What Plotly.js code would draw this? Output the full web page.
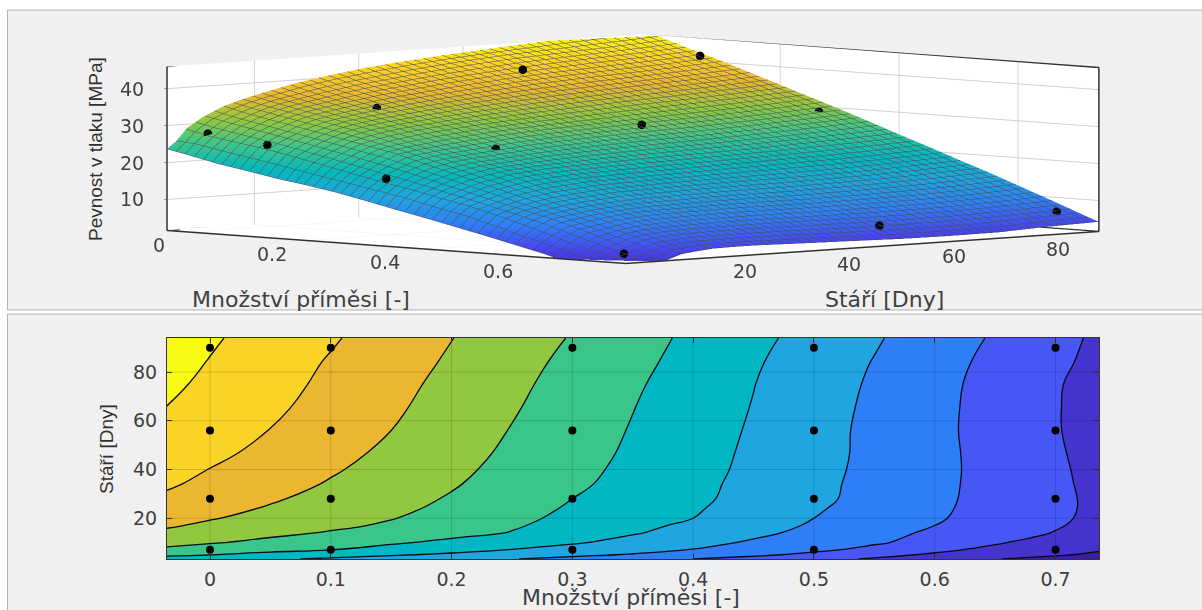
<!DOCTYPE html>
<html><head><meta charset="utf-8">
<script src="https://cdn.plot.ly/plotly-3.0.1.min.js"></script>
<style>html,body{margin:0;padding:0;background:#fff;overflow:hidden;width:1202px;height:610px}
#wrap{position:relative;width:1202px;height:610px;overflow:hidden}
#chart{position:absolute;left:0;top:0;width:1202px;height:610px}
#chart3d{position:absolute;left:-17px;top:-510px;width:1300px;height:1318px}</style>
</head><body><div id="wrap"><div id="chart"></div><div id="chart3d"></div></div>
<script>
const gridX = [-0.036,0,0.05,0.1,0.15,0.2,0.25,0.3,0.35,0.4,0.45,0.5,0.55,0.6,0.65,0.7,0.736];
const gridY = [3.25,5,7,10,14,17,20,24,28,34,40,47,56,65,75,84,94];
const gridZ = [
 [23.7,22.5,20.7,19.3,17.8,16.6,15.2,13.5,11.7,10,8.2,6.4,4.5,2.6,0.2,-1.5,-3],
 [25.6,25.1,23.5,22.1,20.6,19.1,17.6,16.1,14.6,12.7,11,8.8,6.5,4.3,2.3,0.5,-0.8],
 [28.9,27.5,26.2,25,23.3,21.6,19.8,18.1,16.6,14.8,13.1,11,8.6,6,3.8,1.8,0.4],
 [31.6,30.4,28.8,27.2,25.6,23.9,22.2,20.5,18.5,16.4,14.4,12.5,10.6,8.2,5.5,3,1.2],
 [34.2,32.7,31.1,29.6,28,26.4,24.8,22.6,20.4,18.2,16,13.8,11.6,9.2,7.2,4.8,3.1],
 [35.5,34.2,32.6,31,29.3,27.4,25.5,23.4,21.3,19,16.8,14.5,12.2,10,7.8,5.4,3.6],
 [36.6,35.3,33.6,31.9,30.2,28.2,26,24,22,20,17.5,15,12.7,10.5,8.1,5.7,4],
 [37.9,36.4,34.6,32.8,31,29,26.7,24.5,22.4,20.5,18,15.5,13.2,10.8,8.3,5.9,4.1],
 [39.2,37.5,35.5,33.6,31.6,29.6,27.3,25,22.9,20.9,18.5,16,13.5,11,8.4,5.9,4.1],
 [40.6,38.9,36.8,34.6,32.5,30.4,28.1,25.8,23.5,21.2,18.7,16.2,13.6,11.1,8.5,5.8,3.9],
 [41.8,39.9,37.7,35.5,33.3,31,28.7,26.3,23.9,21.5,19,16.4,13.8,11.2,8.5,5.7,3.7],
 [42.9,41.1,38.8,36.4,34.1,31.7,29.2,26.8,24.3,21.8,19.2,16.6,13.9,11.2,8.4,5.5,3.5],
 [44,42.4,39.9,37.5,35,32.4,29.8,27.3,24.7,22.1,19.5,16.7,13.9,11.1,8.3,5.3,3.2],
 [44.9,43.4,40.8,38.3,35.7,33.1,30.4,27.7,25.1,22.4,19.8,16.9,14.1,11.2,8.3,5.3,3.1],
 [45.9,44.1,41.6,39,36.4,33.7,31,28.3,25.6,22.9,20.1,17.2,14.4,11.4,8.4,5.4,3.2],
 [46.7,44.8,42.2,39.6,37,34.4,31.6,28.9,26.2,23.4,20.5,17.7,14.8,11.8,8.8,5.9,3.8],
 [47.5,45.6,43,40.5,37.8,35.1,32.4,29.7,26.9,24,21.2,18.3,15.5,12.5,9.5,6.4,4.2]
];
const ptX = [0,0,0,0,0.1,0.1,0.1,0.1,0.3,0.3,0.3,0.3,0.5,0.5,0.5,0.5,0.7,0.7,0.7,0.7];
const ptY = [7,28,56,90,7,28,56,90,7,28,56,90,7,28,56,90,7,28,56,90];
const ptZ = [27.9,35,40,43,26,34,41.7,42.2,19.2,25.3,29.1,29.4,8.5,13,14,15,3.5,4.7,6.4,7];
const xTicks2d = [0,0.1,0.2,0.3,0.4,0.5,0.6,0.7];
const yTicks = [20,40,60,80];
const xTicks3d = [0,0.2,0.4,0.6];
const zTicks = [10,20,30,40];
const bandColors = ['#3b1f9e','#4433cc','#4757f5','#2d7ef7','#1fa5e0','#00b7c3','#3ac68a','#91c83f','#ecb730','#f9d326','#f9fb15'];
const parula = ['#3e26a8','#4743f2','#2f7ff5','#1fa6df','#06b9bc','#3ec68a','#8fc93f','#e9b82f','#fbd326','#f9fb15'];
const xRange = [-0.0356,0.736], yRange = [3.25,94], zRange = [1.6,46];

const W = 1202, H = 610;
const tick = {family:'DejaVu Sans', size:19, color:'#404040'};
const px = v => v/W, py = v => 1-v/H;
const bandScale = [];
bandColors.forEach((c,i)=>{bandScale.push([i/bandColors.length,c]);bandScale.push([(i+1)/bandColors.length,c]);});
const paruScale = parula.map((c,i)=>[i/(parula.length-1),c]);

const sceneAxis = (r,vals)=>({range:r,tickvals:vals,showticklabels:false,title:{text:''},
  showgrid:true,gridcolor:'#cfcfcf',gridwidth:2,zeroline:false,showline:true,linecolor:'#303030',linewidth:3,mirror:false,
  ticks:'inside',ticklen:4,tickcolor:'#303030',showspikes:false,showbackground:true,backgroundcolor:'#ffffff',autorange:false});

// back edges of the axes box, taken from the axis ranges
const [x0,x1] = xRange, [y0,y1] = yRange, [z0,z1] = zRange;
const edge = (xs,ys,zs)=>({type:'scatter3d',mode:'lines',x:xs,y:ys,z:zs,line:{color:'#303030',width:3},hoverinfo:'skip',showlegend:false});

const meshColor = '#4a4a58';
const traces3d = [
 {type:'surface',x:gridX,y:gridY,z:gridZ,colorscale:paruScale,cmin:-2,cmax:47.5,showscale:false,hoverinfo:'skip',
  lighting:{ambient:1,diffuse:0,specular:0,roughness:1,fresnel:0},
  contours:{x:{show:true,start:-0.036,end:0.736,size:0.0154,color:meshColor,width:1},
            y:{show:true,start:3.25,end:94,size:1.82,color:meshColor,width:1},
            z:{show:false}}},
 {type:'scatter3d',mode:'markers',x:ptX,y:ptY,z:ptZ,marker:{size:5,color:'#000',line:{width:0}},hoverinfo:'skip',showlegend:false},
 edge([x0,x0,x1],[y0,y1,y1],[z1,z1,z1]),
 edge([x0,x0,x1],[y0,y1,y1],[z0,z0,z0]),
 edge([x0,x0],[y0,y0],[z0,z1]),
 edge([x1,x1],[y1,y1],[z0,z1])
];
const traces2d = [
 {type:'contour',x:gridX,y:gridY,z:gridZ,xaxis:'x',yaxis:'y',showscale:false,zmin:-5,zmax:50,colorscale:bandScale,
  autocontour:false,contours:{start:0,end:45,size:5,coloring:'fill'},line:{color:'#0a0a14',width:1.3,smoothing:1.3},hoverinfo:'skip'},
 {type:'scatter',mode:'markers',x:ptX,y:ptY,xaxis:'x',yaxis:'y',marker:{size:8,color:'#000'},hoverinfo:'skip',showlegend:false}
];

const gridLine = 'rgba(0,0,0,0.15)';
const shapes = [
 {type:'rect',xref:'paper',yref:'paper',x0:px(7.5),x1:px(1210),y0:py(310),y1:py(10),fillcolor:'#f0f0f0',line:{color:'#b4b4b4',width:1},layer:'below'},
 {type:'rect',xref:'paper',yref:'paper',x0:px(7.5),x1:px(1210),y0:py(620),y1:py(314),fillcolor:'#f0f0f0',line:{color:'#b4b4b4',width:1},layer:'below'}
];
xTicks2d.forEach(v=>shapes.push({type:'line',xref:'x',yref:'y',x0:v,x1:v,y0:yRange[0],y1:yRange[1],line:{color:gridLine,width:1},layer:'above'}));
yTicks.forEach(v=>shapes.push({type:'line',xref:'x',yref:'y',x0:xRange[0],x1:xRange[1],y0:v,y1:v,line:{color:gridLine,width:1},layer:'above'}));

const sceneAnn = [];
xTicks3d.forEach(v=>sceneAnn.push({x:v,y:yRange[0],z:zRange[0],text:String(v),showarrow:false,xshift:-29-30*v,yshift:-13,font:tick}));
yTicks.forEach(v=>sceneAnn.push({x:xRange[1],y:v,z:zRange[0],text:String(v),showarrow:false,xshift:32,yshift:-13,font:tick}));
zTicks.forEach(v=>sceneAnn.push({x:xRange[0],y:yRange[0],z:v,text:String(v),showarrow:false,xshift:-35,yshift:0,font:tick}));

const titleH = {family:'DejaVu Sans',size:22,color:'#404040'};
const titleV = {family:'Liberation Sans',size:19,color:'#303030'};
const ann = (x,y,text,font,rot)=>({xref:'paper',yref:'paper',x:px(x),y:py(y),text,font,showarrow:false,xanchor:'center',yanchor:'middle',textangle:rot||0});

const layout2d = {
 width:W,height:H,autosize:false,margin:{l:0,r:0,t:0,b:0},paper_bgcolor:'#ffffff',plot_bgcolor:'#ffffff',showlegend:false,
 shapes,
 annotations:[
  ann(301,299,'Množství příměsi [-]',titleH),
  ann(884,299,'Stáří [Dny]',titleH),
  ann(631,597,'Množství příměsi [-]',titleH),
  ann(96,149,'Pevnost v tlaku [MPa]',titleV,-90),
  ann(107,449,'Stáří [Dny]',titleV,-90)
 ],
 xaxis:{domain:[px(167),px(1099)],range:xRange,tickvals:xTicks2d,ticktext:xTicks2d.map(String),tickfont:tick,ticks:'inside',ticklen:5,tickcolor:'#333',
  showline:true,linecolor:'#333',linewidth:1,mirror:'ticks',showgrid:false,zeroline:false,layer:'above traces',ticklabelstandoff:3,anchor:'y'},
 yaxis:{domain:[1-559/H,1-338/H],range:yRange,tickvals:yTicks,tickfont:tick,ticks:'inside',ticklen:5,tickcolor:'#333',
  showline:true,linecolor:'#333',linewidth:1,mirror:'ticks',showgrid:false,zeroline:false,layer:'above traces',ticklabelstandoff:5,anchor:'x'}
};
const r = 1.5;
const layout3d = {
 width:1300,height:1318,autosize:false,margin:{l:0,r:0,t:0,b:0},paper_bgcolor:'rgba(0,0,0,0)',showlegend:false,
 scene:{domain:{x:[0,1],y:[0,1]},
  aspectmode:'manual',aspectratio:{x:1,y:1,z:0.2494},
  camera:{projection:{type:'orthographic'},up:{x:0,y:0,z:1},center:{x:0,y:0,z:0},
          eye:{x:0.716*r,y:-0.694*r,z:0.0697*r}},
  xaxis:sceneAxis(xRange,[0,0.2,0.4,0.6]),yaxis:sceneAxis(yRange,yTicks),zaxis:sceneAxis(zRange,zTicks),
  annotations:sceneAnn,bgcolor:'rgba(0,0,0,0)'}
};
Plotly.newPlot('chart',traces2d,layout2d,{displayModeBar:false});
Plotly.newPlot('chart3d',traces3d,layout3d,{displayModeBar:false});
</script></body></html>
